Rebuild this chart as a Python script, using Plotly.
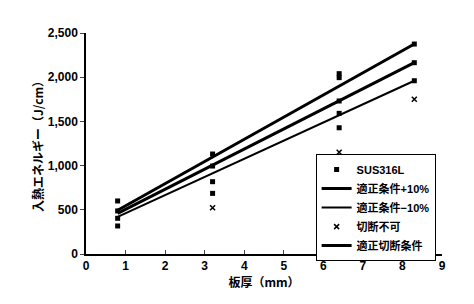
import plotly.graph_objects as go

# SUS316L measured points
sus_x = [0.8, 0.8, 0.8, 0.8, 3.2, 3.2, 3.2, 3.2, 6.4, 6.4, 6.4, 6.4, 6.4, 8.3, 8.3, 8.3]
sus_y = [600, 487, 404, 317, 1131, 995, 818, 686, 2040, 1995, 1731, 1591, 1428, 2375, 2164, 1960]

# 切断不可 points
ng_x = [3.2, 6.4, 8.3]
ng_y = [524, 1150, 1750]

# fitted lines
line_x = [0.8, 8.3]
plus10_y = [495, 2375]
opt_y = [460, 2164]
minus10_y = [420, 1960]

x_ticks = [0, 1, 2, 3, 4, 5, 6, 7, 8, 9]
y_ticks = [0, 500, 1000, 1500, 2000, 2500]

JP = "Noto Sans CJK JP"
LEG = "Liberation Sans, Noto Sans CJK JP"
NUM = "Liberation Sans"

fig = go.Figure()
fig.add_trace(go.Scatter(x=sus_x, y=sus_y, mode="markers", name="SUS316L",
                         marker=dict(symbol="square", size=5, color="black")))
fig.add_trace(go.Scatter(x=line_x, y=plus10_y, mode="lines", name="適正条件+10%",
                         line=dict(color="black", width=3)))
fig.add_trace(go.Scatter(x=line_x, y=minus10_y, mode="lines", name="適正条件−10%",
                         line=dict(color="black", width=2)))
fig.add_trace(go.Scatter(x=ng_x, y=ng_y, mode="markers", name="切断不可",
                         marker=dict(symbol="x-thin", size=5, color="black",
                                     line=dict(color="black", width=1.5))))
fig.add_trace(go.Scatter(x=line_x, y=opt_y, mode="lines", name="適正切断条件",
                         line=dict(color="black", width=3)))

fig.update_layout(
    width=474, height=304,
    margin=dict(l=86, r=32, t=33, b=50),
    paper_bgcolor="white", plot_bgcolor="white",
    font=dict(family=NUM, size=12, color="black"),
    showlegend=True,
    legend=dict(x=0.645, y=0.452, xanchor="left", yanchor="top",
                bgcolor="white", bordercolor="black", borderwidth=1,
                font=dict(family=LEG, size=11, color="black", weight="bold"),
                itemwidth=30, tracegroupgap=0),
    xaxis=dict(range=[0, 9], tickvals=x_ticks, ticks="inside", ticklen=4,
               showline=True, linecolor="black", linewidth=1.5, showgrid=False,
               zeroline=False, tickfont=dict(family=NUM, size=12, weight="bold"),
               title=dict(text="板厚（mm）", font=dict(family=JP, size=12, weight="bold"),
                          standoff=6)),
    yaxis=dict(range=[0, 2500], tickvals=y_ticks, tickformat=",d", ticks="outside",
               ticklen=4, showline=True, linecolor="black", linewidth=1.5,
               showgrid=False, zeroline=False,
               tickfont=dict(family=NUM, size=12, weight="bold"),
               title=dict(text="入熱エネルギー（J/cm）",
                          font=dict(family=JP, size=12, weight="bold"), standoff=2)),
)

fig.write_html("out.html")
